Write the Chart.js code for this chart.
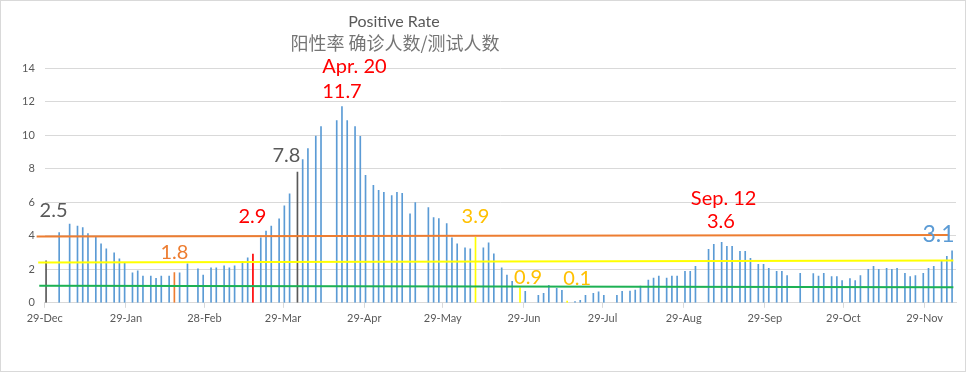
<!DOCTYPE html>
<html>
<head>
<meta charset="utf-8">
<script src="https://cdn.jsdelivr.net/npm/chart.js@4"></script>
<style>
  html, body { margin: 0; padding: 0; background: #fff; }
  canvas { display: block; }
</style>
</head>
<body>
<canvas id="chart-1" width="967" height="373"></canvas>
<script>
// day number counted from 29-Dec-2019
const days = [0, 5, 9, 12, 14, 16, 19, 21, 23, 26, 28, 30, 33, 35, 37, 40, 42, 44, 47, 49,
    51, 54, 58, 60, 63, 65, 68, 70, 72, 75, 77, 79, 82, 84, 86, 89, 91, 93, 96, 98,
    100, 103, 105, 111, 113, 115, 118, 120, 122, 125, 127, 129, 132, 134, 136, 139, 141, 146, 148, 150,
    153, 155, 157, 160, 162, 164, 167, 169, 171, 174, 176, 178, 181, 183, 188, 190, 192, 195, 197, 199,
    202, 204, 206, 209, 211, 213, 218, 220, 223, 225, 227, 230, 232, 234, 237, 239, 241, 244, 246, 248,
    253, 255, 258, 260, 262, 265, 267, 269, 272, 274, 276, 279, 281, 283, 288, 293, 295, 297, 300, 302,
    304, 307, 309, 311, 314, 316, 318, 321, 323, 325, 328, 330, 332, 335, 337, 339, 342, 344, 346];
const rate = [2.5, 4.18, 4.7, 4.58, 4.48, 4.12, 3.96, 3.52, 3.22, 2.98, 2.62, 2.38, 1.78, 1.9, 1.6, 1.6, 1.46, 1.6, 1.6, 1.8,
    1.78, 2.32, 2.02, 1.66, 2.08, 2.08, 2.2, 2.08, 2.2, 2.48, 2.68, 2.9, 3.88, 4.28, 4.58, 5.0, 5.78, 6.5, 7.8, 8.54,
    9.2, 9.94, 10.5, 10.86, 11.7, 10.86, 10.5, 9.92, 7.6, 7.0, 6.7, 6.58, 6.4, 6.58, 6.52, 5.3, 5.98, 5.68, 5.08, 5.02,
    4.72, 3.88, 3.52, 3.28, 3.22, 3.9, 3.28, 3.58, 2.92, 2.08, 1.66, 1.28, 0.9, 0.68, 0.44, 0.56, 1.04, 0.86, 0.74, 0.1,
    0.07, 0.14, 0.44, 0.56, 0.65, 0.44, 0.44, 0.68, 0.7, 0.76, 1.0, 1.36, 1.48, 1.6, 1.48, 1.6, 1.6, 1.87, 1.87, 2.17,
    3.19, 3.49, 3.6, 3.37, 3.37, 3.07, 3.07, 2.65, 2.29, 2.29, 2.05, 1.87, 1.87, 1.63, 1.75, 1.74, 1.6, 1.75, 1.57, 1.57,
    1.33, 1.45, 1.33, 1.63, 1.99, 2.17, 1.99, 2.05, 1.99, 2.05, 1.75, 1.57, 1.63, 1.75, 2.05, 2.17, 2.47, 2.77, 3.1];

const tickDays = [0, 31, 61, 91, 122, 152, 183, 213, 244, 275, 305, 336];
const tickLabels = ['29-Dec', '29-Jan', '28-Feb', '29-Mar', '29-Apr', '29-May', '29-Jun', '29-Jul', '29-Aug', '29-Sep', '29-Oct', '29-Nov'];

// bars drawn in another colour
const highlightDays = [0, 49, 79, 96, 164, 181, 199];
const highlightColors = ['#595959', '#ED7D31', '#FF0000', '#595959', '#FFFF00', '#FFFF00', '#FFFF00'];

// reference lines: [start, end] values and day span
const orangeLine = [3.95, 4.05];
const orangeSpan = [-3.6, 344.7];
const yellowLine = [2.4, 2.52];
const yellowSpan = [-3, 346.5];
const greenLine = [1.02, 0.92];
const greenSpan = [-2.6, 346.5];

// text notes on bars
const noteDays = [0, 49, 79, 96, 113, 113, 164, 181, 199, 258, 258, 346];
const noteTexts = ['2.5', '1.8', '2.9', '7.8', '11.7', 'Apr. 20', '3.9', '0.9', '0.1', '3.6', 'Sep. 12', '3.1'];
const noteStyles = [
    { color: '#595959', dx: 7.5, dy: -50, size: 20 },
    { color: '#ED7D31', dx: 0, dy: -20.5, size: 20 },
    { color: '#FF0000', dx: -0.5, dy: -38, size: 20 },
    { color: '#595959', dx: -11, dy: -16.5, size: 20 },
    { color: '#FF0000', dx: 0, dy: -15, size: 20 },
    { color: '#FF0000', dx: 12.5, dy: -40, size: 20 },
    { color: '#FFC000', dx: 0, dy: -21, size: 20 },
    { color: '#FFC000', dx: 8, dy: -10, size: 20 },
    { color: '#FFC000', dx: 10, dy: -23, size: 20 },
    { color: '#FF0000', dx: -0.8, dy: -21, size: 20 },
    { color: '#FF0000', dx: 2, dy: -44, size: 20 },
    { color: '#5B9BD5', dx: -13.5, dy: -16, size: 23 }
];

const barColors = days.map(d => {
    let k = highlightDays.indexOf(d);
    return k >= 0 ? highlightColors[k] : '#5B9BD5';
});

function refLine(vals, span) {
    return [{ x: span[0], y: vals[0] }, { x: span[1], y: vals[1] }];
}

const frameAndText = {
    id: 'frameAndText',
    beforeDraw(chart) {
        const c = chart.ctx;
        c.save();
        c.fillStyle = '#fff';
        c.fillRect(0, 0, chart.width, chart.height);
        c.strokeStyle = '#D9D9D9';
        c.lineWidth = 1;
        c.strokeRect(0.5, 0.5, 965, 371);
        c.restore();
    },
    afterDraw(chart) {
        const c = chart.ctx;
        const xs = chart.scales.x, ys = chart.scales.y;
        c.save();
        c.textAlign = 'center';
        c.textBaseline = 'middle';
        c.fillStyle = '#595959';
        c.font = '16px Lato';
        c.fillText('Positive Rate', 394, 21.5);
        c.fillStyle = '#757575';
        c.font = '18px "Noto Sans CJK SC"';
        c.fillText('阳性率 确诊人数/测试人数', 395, 43.5);

        noteDays.forEach((d, i) => {
            const st = noteStyles[i];
            const v = rate[days.indexOf(d)];
            const x = xs.getPixelForValue(d) + st.dx;
            const y = ys.getPixelForValue(v) + st.dy;
            c.fillStyle = st.color;
            c.font = st.size + 'px Lato';
            c.fillText(noteTexts[i], x, y);
        });
        c.restore();
    }
};

const ctx = document.getElementById('chart-1').getContext('2d');

const chart_1 = new Chart(ctx, {
    type: 'bar',
    data: {
        datasets: [
            {
                type: 'line',
                data: refLine(orangeLine, orangeSpan),
                borderColor: '#ED7D31',
                borderWidth: 2,
                pointRadius: 0,
                clip: false,
                order: 1
            },
            {
                type: 'line',
                data: refLine(yellowLine, yellowSpan),
                borderColor: '#FFFF00',
                borderWidth: 2,
                pointRadius: 0,
                clip: false,
                order: 1
            },
            {
                type: 'line',
                data: refLine(greenLine, greenSpan),
                borderColor: '#1DB154',
                borderWidth: 2,
                pointRadius: 0,
                clip: false,
                order: 1
            },
            {
                label: 'Positive Rate',
                data: days.map((d, i) => ({ x: d, y: rate[i] })),
                backgroundColor: barColors,
                borderWidth: 0,
                barThickness: 1,
                order: 2
            }
        ]
    },
    options: {
        responsive: false,
        animation: false,
        layout: {
            padding: { left: 12, top: 68, right: 11, bottom: 44 }
        },
        scales: {
            x: {
                type: 'linear',
                offset: false,
                min: -0.5,
                max: 347.5,
                afterBuildTicks: (scale) => {
                    scale.ticks = tickDays.map(d => ({ value: d - 0.5 }));
                },
                ticks: {
                    autoSkip: false,
                    maxRotation: 0,
                    color: '#595959',
                    font: { family: 'Lato', size: 11 },
                    padding: 4,
                    callback: (v, i) => tickLabels[i]
                },
                grid: {
                    offset: false,
                    drawOnChartArea: false,
                    color: '#D9D9D9',
                    tickLength: 5
                },
                border: { color: '#D9D9D9' }
            },
            y: {
                min: 0,
                max: 14,
                ticks: {
                    stepSize: 2,
                    color: '#595959',
                    font: { family: 'Lato', size: 11 },
                    padding: 10
                },
                grid: {
                    color: '#D9D9D9',
                    drawTicks: false
                },
                border: { display: false }
            }
        },
        plugins: {
            legend: { display: false },
            tooltip: { enabled: false }
        }
    },
    plugins: [frameAndText]
});
</script>
</body>
</html>
